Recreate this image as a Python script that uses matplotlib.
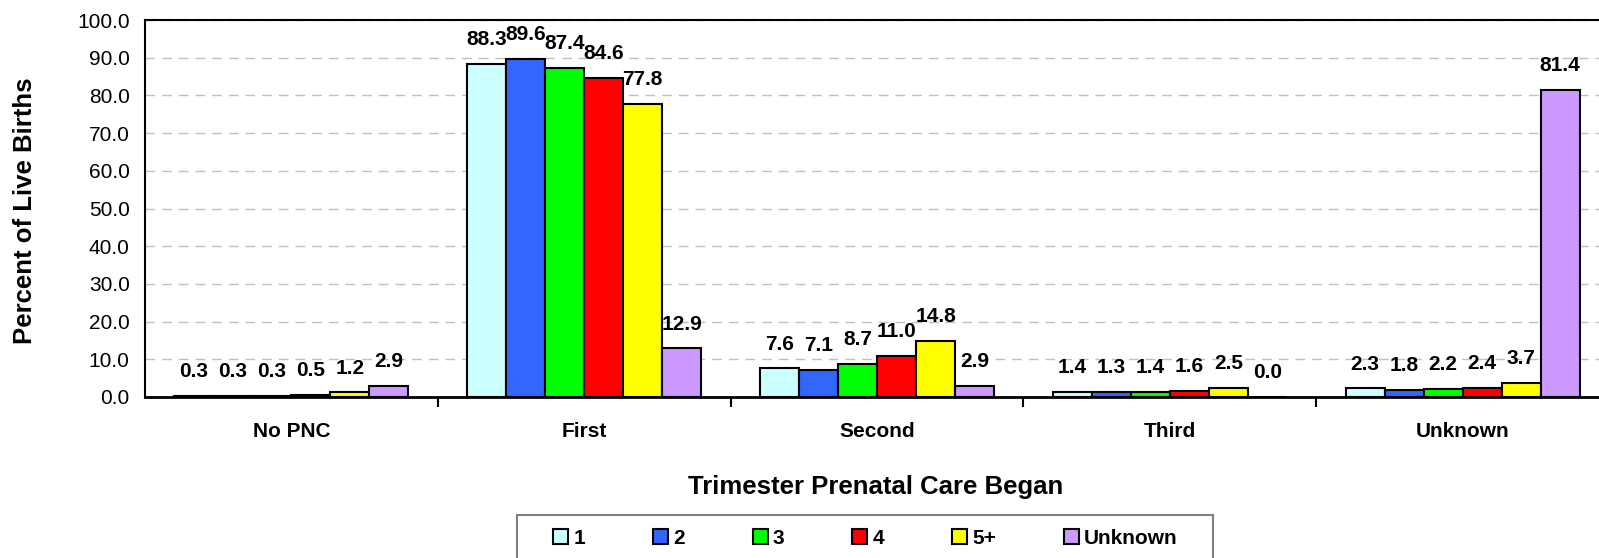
import matplotlib.pyplot as plt
import numpy as np
from matplotlib.patches import Rectangle
from matplotlib.ticker import FormatStrFormatter

plt.rcParams['font.family'] = ['Liberation Sans', 'DejaVu Sans']

# data
trimesters = ["No PNC", "First", "Second", "Third", "Unknown"]
series_names = ["1", "2", "3", "4", "5+", "Unknown"]
vals_1 = [0.3, 88.3, 7.6, 1.4, 2.3]
vals_2 = [0.3, 89.6, 7.1, 1.3, 1.8]
vals_3 = [0.3, 87.4, 8.7, 1.4, 2.2]
vals_4 = [0.5, 84.6, 11.0, 1.6, 2.4]
vals_5plus = [1.2, 77.8, 14.8, 2.5, 3.7]
vals_unknown = [2.9, 12.9, 2.9, 0.0, 81.4]

all_vals = [vals_1, vals_2, vals_3, vals_4, vals_5plus, vals_unknown]
colors = ['#CCFFFF', '#3366FF', '#00FF00', '#FF0000', '#FFFF00', '#CC99FF']

W, H = 1599, 558
fig = plt.figure(figsize=(W / 100, H / 100), dpi=100)
ax = fig.add_axes([145 / W, 1 - 397 / H, 1464 / W, 377 / H])

x = np.arange(len(trimesters))  # group centers
width = 0.1333  # bar width

for j, (name, vals) in enumerate(zip(series_names, all_vals)):
    offset = (j - 2.5) * width
    rects = ax.bar(x + offset, vals, width, color=colors[j], edgecolor='black',
                   linewidth=1.5, label=name, zorder=3)
    for r, v in zip(rects, vals):
        ax.annotate(f"{v:.1f}", (r.get_x() + r.get_width() / 2, v),
                    xytext=(0, 17.5), textcoords='offset points',
                    ha='center', va='center', fontsize=15, fontweight='bold')

ax.set_xlim(-0.5, len(trimesters) - 0.5)
ax.set_ylim(0, 100)
ax.set_yticks(np.arange(0, 101, 10))
ax.yaxis.set_major_formatter(FormatStrFormatter('%.1f'))
ax.tick_params(axis='y', length=0, pad=11, labelsize=15)

ax.set_xticks(x)
ax.set_xticklabels(trimesters, fontsize=15, fontweight='bold')
ax.set_xticks(x[:-1] + 0.5, minor=True)
ax.tick_params(axis='x', which='major', length=0, pad=18)
ax.tick_params(axis='x', which='minor', length=7, width=1.5, direction='out')

ax.grid(axis='y', color='#c0c0c0', linestyle=(0, (7, 5)), linewidth=1, zorder=0)

for side in ['left', 'top', 'right']:
    ax.spines[side].set_linewidth(1.5)
ax.spines['bottom'].set_linewidth(2)

fig.text(25 / W, 1 - 211 / H, 'Percent of Live Births', rotation=90,
         ha='center', va='center', fontsize=18.5, fontweight='bold')
fig.text((683 + 1069) / 2 / W, 1 - 487 / H, 'Trimester Prenatal Care Began',
         ha='center', va='center', fontsize=18.5, fontweight='bold')

# legend box, open at the bottom of the image
fig.patches.append(Rectangle((517 / W, -0.05), (1213 - 517) / W, 1 - 515 / H + 0.05,
                             transform=fig.transFigure, fill=False,
                             edgecolor='#808080', linewidth=1.5))
ax.legend(loc='center left', bbox_to_anchor=(543 / W, 1 - 538 / H),
          bbox_transform=fig.transFigure, ncols=6, frameon=False,
          prop={'size': 15, 'weight': 'bold'}, borderpad=0,
          handlelength=0.72, handleheight=0.72, handletextpad=0.25,
          columnspacing=3.25)

plt.savefig("out.png", dpi=100)
plt.close(fig)
